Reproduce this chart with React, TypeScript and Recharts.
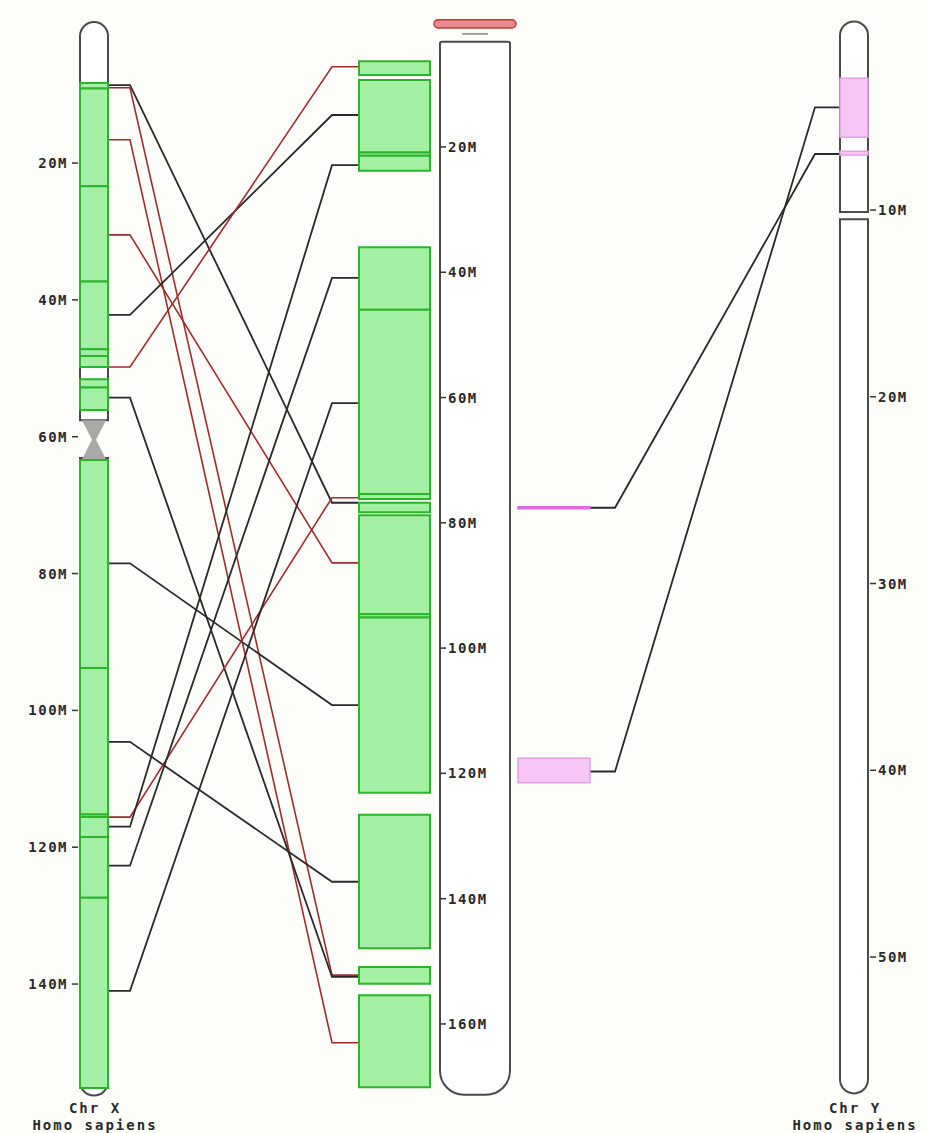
import * as RC from 'recharts';
import { ComposedChart, XAxis, YAxis, ReferenceArea, Scatter, Customized } from 'recharts';

// synteny blocks on human chr X (Mb)
const humanXBlocks = [
  [8.3, 9.1], [9.1, 23.4], [23.4, 37.3], [37.3, 47.2], [47.2, 48.2], [48.2, 49.8],
  [51.6, 52.8], [52.8, 56.1],
  [63.4, 93.8], [93.8, 115.2], [115.2, 115.6], [115.6, 118.5], [118.5, 127.4], [127.4, 155.2],
];

// synteny blocks on mouse chr X (Mb)
const mouseXBlocks = [
  [6.3, 8.5], [9.3, 20.9], [20.9, 21.4], [21.4, 23.8],
  [36.0, 46.0], [46.0, 75.4], [75.4, 76.2], [76.8, 78.3], [78.8, 94.6], [94.6, 95.1], [95.1, 123.1],
  [126.6, 147.9], [150.9, 153.6], [155.4, 170.1],
];

// human chr Y segments and its matched regions
const humanYBlocks = [[2.95, 6.1], [6.85, 7.05]];
const yOnMouseX = [[77.45, 77.75], [117.6, 121.5]];

// connectors: human X position -> mouse X position
const xLinks = [
  { hx: 8.6, mx: 76.8, kind: 'plus' },
  { hx: 9.0, mx: 152.2, kind: 'minus' },
  { hx: 16.6, mx: 163.0, kind: 'minus' },
  { hx: 30.5, mx: 86.4, kind: 'minus' },
  { hx: 42.2, mx: 14.9, kind: 'plus' },
  { hx: 49.8, mx: 7.2, kind: 'minus' },
  { hx: 54.3, mx: 152.5, kind: 'plus' },
  { hx: 78.5, mx: 109.1, kind: 'plus' },
  { hx: 104.6, mx: 137.3, kind: 'plus' },
  { hx: 115.6, mx: 76.0, kind: 'minus' },
  { hx: 117.0, mx: 22.9, kind: 'plus' },
  { hx: 122.7, mx: 40.9, kind: 'plus' },
  { hx: 141.0, mx: 60.9, kind: 'plus' },
];

// connectors: mouse X position -> human Y position
const yLinks = [
  { mx: 77.6, hy: 7.0 },
  { mx: 119.7, hy: 4.5 },
];

const hxTicks = [20, 40, 60, 80, 100, 120, 140];
const mxTicks = [20, 40, 60, 80, 100, 120, 140, 160];
const hyTicks = [10, 20, 30, 40, 50];

const W = 928;
const H = 1133;
const FONT = '"DejaVu Sans Mono", monospace';
const GREEN = '#a3efa3';
const GREEN_EDGE = '#2bb52b';
const OUTLINE = '#4a4a4a';

const R = RC as any;
const hasScaleHook = typeof R.useYAxisScale === 'function' && typeof R.useXAxisScale === 'function';

function applyScale(s: any, v: number) {
  if (!s) return NaN;
  if (typeof s === 'function') return s(v);
  if (typeof s.map === 'function') return s.map(v);
  if (typeof s.scale === 'function') return s.scale(v);
  return NaN;
}

function useScales() {
  if (hasScaleHook) {
    const sx = R.useXAxisScale(0);
    const sh = R.useYAxisScale('hx');
    const sm = R.useYAxisScale('mx');
    const sy = R.useYAxisScale('hy');
    return {
      x: (v: number) => applyScale(sx, v),
      hx: (v: number) => applyScale(sh, v),
      mx: (v: number) => applyScale(sm, v),
      hy: (v: number) => applyScale(sy, v),
    };
  }
  const area = R.usePlotArea();
  const dx = R.useXAxisDomain(0);
  const dh = R.useYAxisDomain('hx');
  const dm = R.useYAxisDomain('mx');
  const dy = R.useYAxisDomain('hy');
  const lx = (d: any) => (v: number) => area.x + ((v - d[0]) / (d[1] - d[0])) * area.width;
  const ly = (d: any) => (v: number) => area.y + ((v - d[0]) / (d[1] - d[0])) * area.height;
  if (!area || !dx || !dh || !dm || !dy) return null;
  return { x: lx(dx), hx: ly(dh), mx: ly(dm), hy: ly(dy) };
}

function Links() {
  const s = useScales();
  if (!s) return null;
  const pts = (arr: number[][]) => arr.map((p) => p.join(',')).join(' ');
  return (
    <g>
      {xLinks.map((l, i) => {
        const a = s.hx(l.hx);
        const b = s.mx(l.mx);
        return (
          <polyline
            key={'x' + i}
            points={pts([[s.x(108), a], [s.x(130), a], [s.x(332), b], [s.x(359), b]])}
            fill="none"
            stroke={l.kind === 'minus' ? '#a02c2c' : '#2a2a2a'}
            strokeWidth={l.kind === 'minus' ? 1.6 : 1.8}
          />
        );
      })}
      {yLinks.map((l, i) => {
        const a = s.mx(l.mx);
        const b = s.hy(l.hy);
        return (
          <polyline
            key={'y' + i}
            points={pts([[s.x(590), a], [s.x(615), a], [s.x(815), b], [s.x(840), b]])}
            fill="none"
            stroke="#2a2a2a"
            strokeWidth={1.8}
          />
        );
      })}
      <g fontFamily={FONT} fontSize={14} fontWeight="bold" fill="#2a2a2a" letterSpacing={2} textAnchor="middle">
        <text x={s.x(95)} y={1113}>Chr X</text>
        <text x={s.x(95)} y={1130}>Homo sapiens</text>
        <text x={s.x(855)} y={1113}>Chr Y</text>
        <text x={s.x(855)} y={1130}>Homo sapiens</text>
      </g>
    </g>
  );
}

function tickShape(side: 'left' | 'right') {
  return (props: any) => {
    const { cx, cy, payload } = props;
    const d = side === 'left' ? -1 : 1;
    return (
      <g>
        <line x1={cx + d * 2} x2={cx + d * 8} y1={cy} y2={cy} stroke="#333" strokeWidth={1.5} />
        <text
          x={cx + d * (side === 'left' ? 12 : 10)}
          y={cy}
          dy="0.36em"
          textAnchor={side === 'left' ? 'end' : 'start'}
          fontFamily={FONT}
          fontSize={14}
          fontWeight="bold"
          letterSpacing={1.5}
          fill="#2a2a2a"
        >
          {payload.y + 'M'}
        </text>
      </g>
    );
  };
}

export default function App() {
  const hxTickData = hxTicks.map((t) => ({ x: 80, y: t }));
  const mxTickData = mxTicks.map((t) => ({ x: 438, y: t }));
  const hyTickData = hyTicks.map((t) => ({ x: 868, y: t }));

  return (
    <div style={{ position: 'absolute', left: 0, top: 0, width: W, height: H, background: '#fdfdf9' }}>
      <ComposedChart width={W} height={H} margin={{ top: 0, right: 0, bottom: 0, left: 0 }}>
        <XAxis type="number" dataKey="x" domain={[0, W]} allowDataOverflow hide />
        <YAxis yAxisId="hx" type="number" dataKey="y" domain={[-3.83, 161.77]} allowDataOverflow reversed hide />
        <YAxis yAxisId="mx" type="number" dataKey="y" domain={[-3.46, 177.41]} allowDataOverflow reversed hide />
        <YAxis yAxisId="hy" type="number" dataKey="y" domain={[-1.245, 59.42]} allowDataOverflow reversed hide />

        {/* human X chromosome outline */}
        <ReferenceArea yAxisId="hx" x1={80} x2={108} y1={-0.6} y2={57.6} fill="#fff" fillOpacity={1}
          stroke={OUTLINE} strokeWidth={2} radius={[14, 14, 0, 0]} ifOverflow="visible" />
        <ReferenceArea yAxisId="hx" x1={80} x2={108} y1={63.1} y2={156.3} fill="#fff" fillOpacity={1}
          stroke={OUTLINE} strokeWidth={2} radius={[0, 0, 14, 14]} ifOverflow="visible" />
        <ReferenceArea yAxisId="hx" x1={82} x2={106} y1={57.6} y2={63.3} ifOverflow="visible"
          shape={(p: any) => (
            <polygon
              points={`${p.x},${p.y} ${p.x + p.width},${p.y} ${p.x + p.width / 2 + 2},${p.y + p.height / 2} ${p.x + p.width},${p.y + p.height} ${p.x},${p.y + p.height} ${p.x + p.width / 2 - 2},${p.y + p.height / 2}`}
              fill="#a9a9a9"
            />
          )} />
        {humanXBlocks.map((b, i) => (
          <ReferenceArea key={'hb' + i} yAxisId="hx" x1={80} x2={108} y1={b[0]} y2={b[1]}
            fill={GREEN} fillOpacity={1} stroke={GREEN_EDGE} strokeWidth={2} ifOverflow="visible" />
        ))}

        {/* mouse X chromosome */}
        <ReferenceArea yAxisId="mx" x1={434} x2={516} y1={-0.3} y2={1.0} fill="#e58b8b" fillOpacity={1}
          stroke="#c03a3a" strokeWidth={1.5} radius={4} ifOverflow="visible" />
        <ReferenceArea yAxisId="mx" x1={462} x2={488} y1={1.8} y2={2.1} fill="#999" fillOpacity={1} ifOverflow="visible" />
        <ReferenceArea yAxisId="mx" x1={440} x2={510} y1={3.2} y2={171.3} fill="#fff" fillOpacity={1}
          stroke={OUTLINE} strokeWidth={2} radius={[2, 2, 24, 24]} ifOverflow="visible" />
        {mouseXBlocks.map((b, i) => (
          <ReferenceArea key={'mb' + i} yAxisId="mx" x1={359} x2={430} y1={b[0]} y2={b[1]}
            fill={GREEN} fillOpacity={1} stroke={GREEN_EDGE} strokeWidth={2} ifOverflow="visible" />
        ))}
        {yOnMouseX.map((b, i) => (
          <ReferenceArea key={'pm' + i} yAxisId="mx" x1={518} x2={590} y1={b[0]} y2={b[1]}
            fill={i === 0 ? '#dc6ddc' : '#f7c6f7'} fillOpacity={1}
            stroke={i === 0 ? '#dc6ddc' : '#e3a0e3'} strokeWidth={1.5} ifOverflow="visible" />
        ))}

        {/* human Y chromosome */}
        <ReferenceArea yAxisId="hy" x1={840} x2={868} y1={-0.1} y2={10.1} fill="#fff" fillOpacity={1}
          stroke={OUTLINE} strokeWidth={2} radius={[14, 14, 0, 0]} ifOverflow="visible" />
        <ReferenceArea yAxisId="hy" x1={840} x2={868} y1={10.5} y2={57.3} fill="#fff" fillOpacity={1}
          stroke={OUTLINE} strokeWidth={2} radius={[0, 0, 14, 14]} ifOverflow="visible" />
        {humanYBlocks.map((b, i) => (
          <ReferenceArea key={'yb' + i} yAxisId="hy" x1={840} x2={868} y1={b[0]} y2={b[1]}
            fill="#f7c6f7" fillOpacity={1} stroke="#e3a0e3" strokeWidth={1.5} ifOverflow="visible" />
        ))}

        <Scatter yAxisId="hx" data={hxTickData} shape={tickShape('left')} isAnimationActive={false} />
        <Scatter yAxisId="mx" data={mxTickData} shape={tickShape('right')} isAnimationActive={false} />
        <Scatter yAxisId="hy" data={hyTickData} shape={tickShape('right')} isAnimationActive={false} />

        <Customized component={<Links />} />
      </ComposedChart>
    </div>
  );
}
